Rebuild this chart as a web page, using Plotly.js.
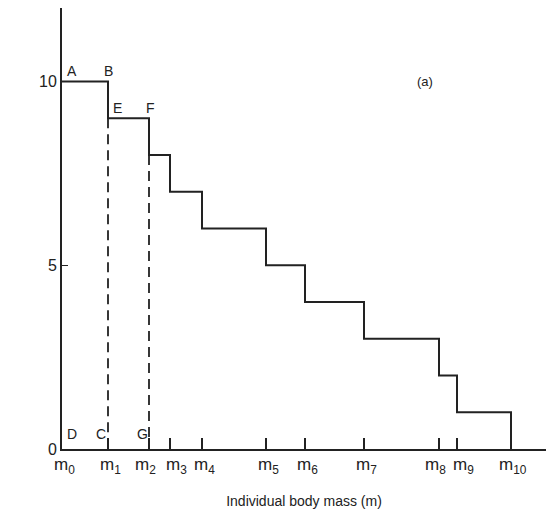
<!DOCTYPE html>
<html>
<head>
<meta charset="utf-8">
<script src="https://cdn.plot.ly/plotly-3.0.1.min.js"></script>
<style>html,body{margin:0;padding:0;background:#fff;}#chart{width:546px;height:517px;}</style>
</head>
<body>
<div id="chart"></div>
<script>
// Mass class boundaries m0..m10 (arbitrary units)
const massBounds = [0, 46, 87, 108, 140, 204, 243, 302, 377, 395, 449];
const massLabels = ["m<sub>0</sub>","m<sub>1</sub>","m<sub>2</sub>","m<sub>3</sub>","m<sub>4</sub>","m<sub>5</sub>","m<sub>6</sub>","m<sub>7</sub>","m<sub>8</sub>","m<sub>9</sub>","m<sub>10</sub>"];
// Number of individuals N with mass >= each class lower bound
const countN = [10, 9, 8, 7, 6, 5, 4, 3, 2, 1];
const yTicks = [0, 5, 10];

// Build step path from the data
const sx = [], sy = [];
for (let i = 0; i < countN.length; i++) {
  sx.push(massBounds[i], massBounds[i + 1]);
  sy.push(countN[i], countN[i]);
}
sx.push(massBounds[10]); sy.push(0);

const ink = '#222';
const font = {family: 'Liberation Sans, Arial, sans-serif', color: ink};

const traces = [
  {x: sx, y: sy, mode: 'lines', line: {color: ink, width: 2}, hoverinfo: 'skip'},
  {x: [massBounds[1], massBounds[1]], y: [countN[1], 0], mode: 'lines', line: {color: ink, width: 1.8, dash: '10px,6px'}, hoverinfo: 'skip'},
  {x: [massBounds[2], massBounds[2]], y: [countN[2], 0], mode: 'lines', line: {color: ink, width: 1.8, dash: '10px,6px'}, hoverinfo: 'skip'}
];

const letters = [
  ['A', massBounds[0], countN[0], 10, 11],
  ['B', massBounds[1], countN[0], 0, 11],
  ['E', massBounds[1], countN[1], 9, 10],
  ['F', massBounds[2], countN[1], 1, 10],
  ['D', massBounds[0], 0, 10, 15],
  ['C', massBounds[1], 0, -7, 15],
  ['G', massBounds[2], 0, -7, 15]
];
const annotations = letters.map(l => ({
  x: l[1], y: l[2], xref: 'x', yref: 'y', text: l[0], showarrow: false,
  xshift: l[3], yshift: l[4], font: Object.assign({size: 14}, font)
}));

// x tick labels as annotations so crowded neighbours can be nudged apart
massBounds.forEach((m, i) => {
  let shift = 2;
  const gapNext = i < massBounds.length - 1 ? massBounds[i + 1] - m : 1e9;
  const gapPrev = i > 0 ? m - massBounds[i - 1] : 1e9;
  if (gapNext < 25) shift = -4;
  if (gapPrev < 25) shift = 6;
  annotations.push({
    x: m, y: 0, xref: 'x', yref: 'paper', yanchor: 'top', xanchor: 'center',
    text: massLabels[i], showarrow: false, xshift: shift, yshift: -4,
    font: Object.assign({size: 17}, font)
  });
});

annotations.push({x: 363, y: 10, xref: 'x', yref: 'y', text: '(a)', showarrow: false, font: Object.assign({size: 13}, font)});
annotations.push({x: -22, y: 5, xref: 'x', yref: 'y', text: 'N', showarrow: false, font: Object.assign({size: 15}, font), xanchor: 'center', yshift: -3});

const layout = {
  width: 546, height: 517,
  margin: {l: 62, r: 0, t: 8, b: 68},
  paper_bgcolor: '#fff', plot_bgcolor: '#fff',
  showlegend: false,
  xaxis: {
    range: [0, 484], showgrid: false, zeroline: false,
    showline: true, linecolor: ink, linewidth: 2,
    tickmode: 'array', tickvals: massBounds, showticklabels: false,
    ticks: 'inside', ticklen: 11, tickwidth: 1.5, tickcolor: ink,
    title: {text: 'Individual body mass (m)', font: Object.assign({size: 14}, font), standoff: 46},
    fixedrange: true
  },
  yaxis: {
    range: [0, 12], showgrid: false, zeroline: false,
    showline: true, linecolor: ink, linewidth: 2,
    tickmode: 'array', tickvals: yTicks, ticktext: ['0', '5', '10'],
    ticks: 'inside', ticklen: 6, tickwidth: 1.5, tickcolor: ink,
    tickfont: Object.assign({size: 16}, font),
    fixedrange: true
  },
  annotations: annotations
};

Plotly.newPlot('chart', traces, layout, {displayModeBar: false, staticPlot: true});
</script>
</body>
</html>
